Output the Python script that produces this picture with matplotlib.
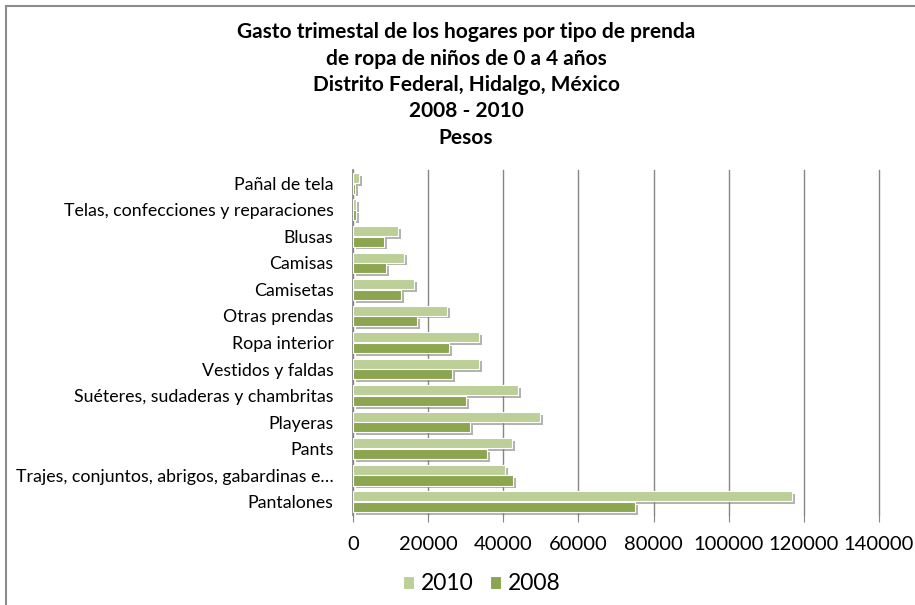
import numpy as np
import matplotlib.pyplot as plt
import matplotlib.patheffects as pe
from matplotlib.patches import Rectangle, Patch

plt.rcParams['font.family'] = ['Lato', 'DejaVu Sans']

# categories, bottom to top
categorias = [
    "Pantalones",
    "Trajes, conjuntos, abrigos, gabardinas e…",
    "Pants",
    "Playeras",
    "Suéteres, sudaderas y chambritas",
    "Vestidos y faldas",
    "Ropa interior",
    "Otras prendas",
    "Camisetas",
    "Camisas",
    "Blusas",
    "Telas, confecciones y reparaciones",
    "Pañal de tela",
]
gasto_2010 = [116900, 40500, 42400, 49800, 43900, 33500, 33600, 25100, 16200, 13600, 12100, 800, 1600]
gasto_2008 = [75100, 42600, 35700, 31100, 30200, 26400, 25600, 17100, 12900, 8800, 8300, 900, 500]
xticks = [0, 20000, 40000, 60000, 80000, 100000, 120000, 140000]

color_2010 = '#bbcf97'
color_2008 = '#8ba64f'

fig = plt.figure(figsize=(9.15, 6.05), dpi=100)
ax = fig.add_axes([353 / 915, 1 - 515 / 605, 526 / 915, 345 / 605])

y = np.arange(len(categorias))
h = 0.38
sombra = [pe.SimplePatchShadow(offset=(2, -2), shadow_rgbFace='#808080', alpha=0.6), pe.Normal()]
b1 = ax.barh(y + h / 2 + 0.01, gasto_2010, height=h, color=color_2010, edgecolor='white',
             linewidth=0.8, label='2010', zorder=3)
b2 = ax.barh(y - h / 2 - 0.01, gasto_2008, height=h, color=color_2008, edgecolor='white',
             linewidth=0.8, label='2008', zorder=3)
for b in list(b1) + list(b2):
    b.set_path_effects(sombra)

ax.set_xlim(0, 140000)
ax.set_ylim(-0.5, len(categorias) - 0.5)
ax.set_xticks(xticks)
ax.set_xticklabels([str(t) for t in xticks], fontsize=14.5)
ax.set_yticks(y)
ax.set_yticklabels(categorias, fontsize=12.8)
ax.tick_params(axis='y', length=0, pad=14)
ax.tick_params(axis='x', length=5, color='#868686', pad=10, direction='out')
ax.grid(axis='x', color='#868686', linewidth=1, zorder=0)
for g in ax.get_xgridlines():
    g.set_clip_on(False)
for s in ['top', 'right', 'bottom']:
    ax.spines[s].set_visible(False)
ax.spines['left'].set_color('#868686')
ax.spines['left'].set_linewidth(1.2)

fig.text(466 / 915, 1 - 85 / 605,
         "Gasto trimestal de los hogares por tipo de prenda\n"
         "de ropa de niños de 0 a 4 años\n"
         "Distrito Federal, Hidalgo, México\n"
         "2008 - 2010\n"
         "Pesos",
         ha='center', va='center', fontsize=15, fontweight='bold', linespacing=1.4)

handles = [Patch(facecolor=color_2010, edgecolor='white', linewidth=0.8),
           Patch(facecolor=color_2008, edgecolor='white', linewidth=0.8)]
leg = fig.legend(handles=handles, labels=['2010', '2008'], loc='center',
                 bbox_to_anchor=(482 / 915, 1 - 584 / 605), ncol=2, frameon=False,
                 fontsize=16.5, handlelength=0.5, handleheight=0.5, handletextpad=0.3,
                 columnspacing=0.7)

fig.patches.append(Rectangle((6 / 915, -0.1), 1.2, 1 - 6 / 605 + 0.1, transform=fig.transFigure,
                             fill=False, edgecolor='#8c8c8c', linewidth=1.5))

fig.savefig('out.png', dpi=100)
